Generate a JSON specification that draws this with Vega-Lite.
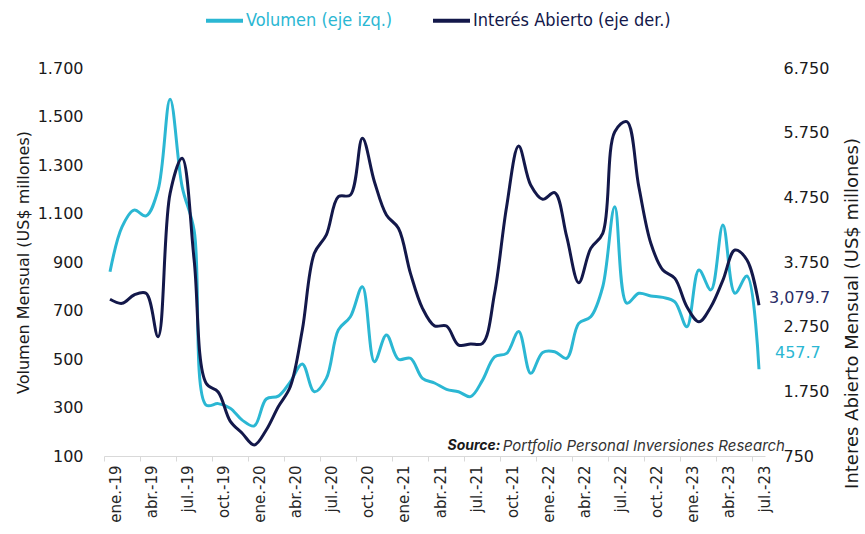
{
  "$schema": "https://vega.github.io/schema/vega-lite/v6.json",
  "width": 661,
  "height": 388,
  "autosize": {"type": "none"},
  "padding": {"left": 104, "top": 68, "right": 100, "bottom": 78},
  "background": "white",
  "config": {
    "view": {"stroke": null},
    "font": "DejaVu Sans",
    "axis": {"labelFont": "DejaVu Sans", "titleFont": "DejaVu Sans", "labelColor": "#1a1a1a", "titleColor": "#1a1a1a", "titleFontWeight": "normal"}
  },
  "data": {"values": [
    {"mes":"ene.-19","vol":860,"oi":3173},{"mes":"feb.-19","vol":1045,"oi":3111},{"mes":"mar.-19","vol":1114,"oi":3240},
    {"mes":"abr.-19","vol":1090,"oi":3266},{"mes":"may.-19","vol":1197,"oi":2595},{"mes":"jun.-19","vol":1571,"oi":4812},
    {"mes":"jul.-19","vol":1211,"oi":5353},{"mes":"ago.-19","vol":1030,"oi":3781},{"mes":"sep.-19","vol":310,"oi":1874},
    {"mes":"oct.-19","vol":316,"oi":1740},{"mes":"nov.-19","vol":297,"oi":1290},{"mes":"dic.-19","vol":248,"oi":1101},
    {"mes":"ene.-20","vol":224,"oi":920},{"mes":"feb.-20","vol":335,"oi":1152},{"mes":"mar.-20","vol":347,"oi":1512},
    {"mes":"abr.-20","vol":406,"oi":1822},{"mes":"may.-20","vol":479,"oi":2698},{"mes":"jun.-20","vol":365,"oi":3884},
    {"mes":"jul.-20","vol":420,"oi":4170},{"mes":"ago.-20","vol":620,"oi":4760},{"mes":"sep.-20","vol":674,"oi":4786},
    {"mes":"oct.-20","vol":798,"oi":5662},{"mes":"nov.-20","vol":489,"oi":4992},{"mes":"dic.-20","vol":599,"oi":4477},
    {"mes":"ene.-21","vol":499,"oi":4271},{"mes":"feb.-21","vol":503,"oi":3575},{"mes":"mar.-21","vol":420,"oi":3034},
    {"mes":"abr.-21","vol":401,"oi":2763},{"mes":"may.-21","vol":375,"oi":2760},{"mes":"jun.-21","vol":365,"oi":2466},
    {"mes":"jul.-21","vol":345,"oi":2482},{"mes":"ago.-21","vol":413,"oi":2493},{"mes":"sep.-21","vol":509,"oi":3266},
    {"mes":"oct.-21","vol":523,"oi":4605},{"mes":"nov.-21","vol":613,"oi":5544},{"mes":"dic.-21","vol":441,"oi":4941},
    {"mes":"ene.-22","vol":527,"oi":4720},{"mes":"feb.-22","vol":530,"oi":4822},{"mes":"mar.-22","vol":503,"oi":4141},
    {"mes":"abr.-22","vol":647,"oi":3430},{"mes":"may.-22","vol":674,"oi":3961},{"mes":"jun.-22","vol":798,"oi":4193},
    {"mes":"jul.-22","vol":1128,"oi":5765},{"mes":"ago.-22","vol":730,"oi":5920},{"mes":"sep.-22","vol":771,"oi":4915},
    {"mes":"oct.-22","vol":760,"oi":4040},{"mes":"nov.-22","vol":754,"oi":3626},{"mes":"dic.-22","vol":736,"oi":3497},
    {"mes":"ene.-23","vol":633,"oi":3059},{"mes":"feb.-23","vol":867,"oi":2827},{"mes":"mar.-23","vol":785,"oi":3059},
    {"mes":"abr.-23","vol":1053,"oi":3471},{"mes":"may.-23","vol":771,"oi":3935},{"mes":"jun.-23","vol":842,"oi":3781},
    {"mes":"jul.-23","vol":457.7,"oi":3079.7}
  ]},
  "encoding": {
    "x": {
      "field": "mes", "type": "ordinal", "sort": null, "bandPosition": 0.5,
      "scale": {"type": "band", "paddingInner": 0, "paddingOuter": 0},
      "axis": {
        "title": null, "labelAngle": -90, "labelFontSize": 15, "labelColor": "#262626",
        "values": ["ene.-19","abr.-19","jul.-19","oct.-19","ene.-20","abr.-20","jul.-20","oct.-20","ene.-21","abr.-21","jul.-21","oct.-21","ene.-22","abr.-22","jul.-22","oct.-22","ene.-23","abr.-23","jul.-23"],
        "bandPosition": 0, "labelOffset": 6, "labelPadding": 4,
        "domainColor": "#d9d9d9", "tickColor": "#d9d9d9", "tickSize": 5, "grid": false
      }
    }
  },
  "layer": [
    {
      "layer": [
        {
          "mark": {"type": "line", "interpolate": "catmull-rom", "strokeWidth": 3},
          "encoding": {
            "y": {"field": "vol", "type": "quantitative",
              "scale": {"domain": [100, 1700], "nice": false, "zero": false},
              "axis": {"title": "Volumen Mensual (US$ millones)", "titleFontSize": 16, "titlePadding": 6,
                "labelFontSize": 16, "labelPadding": 21, "values": [100,300,500,700,900,1100,1300,1500,1700],
                "labelExpr": "replace(format(datum.value, ','), ',', '.')",
                "domain": false, "ticks": false, "grid": false}},
            "color": {"datum": "Volumen (eje izq.)", "type": "nominal",
              "scale": {"domain": ["Volumen (eje izq.)", "Interés Abierto (eje der.)"], "range": ["#2BB7D3", "#13184A"]},
              "legend": {
                "orient": "none", "legendX": 100, "legendY": -68, "direction": "horizontal", "title": null,
                "symbolType": "stroke", "symbolSize": 1369, "symbolStrokeWidth": 4, "padding": 0,
                "labelFont": "DejaVu Sans Condensed, Roboto", "labelFontSize": 18, "labelOffset": 1, "columnPadding": 32, "labelLimit": 0,
                "encode": {"labels": {"update": {"fill": {"signal": "datum.value == 'Volumen (eje izq.)' ? '#2BB7D3' : '#13184A'"}}}}
              }}
          }
        },
        {
          "transform": [{"filter": "datum.mes == 'jul.-23'"}],
          "mark": {"type": "text", "align": "left", "baseline": "middle", "dx": 16, "dy": -16, "fontSize": 16, "font": "DejaVu Sans", "color": "#2BB7D3"},
          "encoding": {
            "y": {"field": "vol", "type": "quantitative"},
            "text": {"field": "vol", "type": "quantitative", "format": ",.1f"}
          }
        },
        {
          "data": {"values": [{"src": "Source:"}]},
          "mark": {"type": "text", "align": "left", "baseline": "middle", "font": "Inter", "fontSize": 14, "fontStyle": "italic", "fontWeight": "bold", "color": "#1a1a1a", "dx": 1},
          "encoding": {
            "x": {"datum": "may.-21", "type": "ordinal"},
            "y": {"datum": 141, "type": "quantitative"},
            "text": {"field": "src"}
          }
        },
        {
          "data": {"values": [{"src": "Portfolio Personal Inversiones Research"}]},
          "mark": {"type": "text", "align": "right", "baseline": "middle", "font": "Inter", "fontSize": 15, "fontStyle": "italic", "color": "#333333", "dx": 26},
          "encoding": {
            "x": {"datum": "jul.-23", "type": "ordinal"},
            "y": {"datum": 141, "type": "quantitative"},
            "text": {"field": "src"}
          }
        }
      ]
    },
    {
      "layer": [
        {
          "mark": {"type": "line", "interpolate": "catmull-rom", "strokeWidth": 3},
          "encoding": {
            "y": {"field": "oi", "type": "quantitative",
              "scale": {"domain": [750, 6750], "nice": false, "zero": false},
              "axis": {"orient": "right", "title": "Interes Abierto Mensual (US$ millones)", "titleFontSize": 18, "titlePadding": 33,
                "titleAngle": 270, "titleY": 245,
                "labelFontSize": 16, "labelPadding": 18, "values": [750,1750,2750,3750,4750,5750,6750],
                "labelExpr": "replace(format(datum.value, ','), ',', '.')",
                "domain": false, "ticks": false, "grid": false}},
            "color": {"datum": "Interés Abierto (eje der.)", "type": "nominal"}
          }
        },
        {
          "transform": [{"filter": "datum.mes == 'jul.-23'"}],
          "mark": {"type": "text", "align": "left", "baseline": "middle", "dx": 10, "dy": -7, "fontSize": 16, "font": "DejaVu Sans", "color": "#2a2d66"},
          "encoding": {
            "y": {"field": "oi", "type": "quantitative"},
            "text": {"field": "oi", "type": "quantitative", "format": ",.1f"}
          }
        }
      ]
    }
  ],
  "resolve": {"scale": {"y": "independent"}}
}
